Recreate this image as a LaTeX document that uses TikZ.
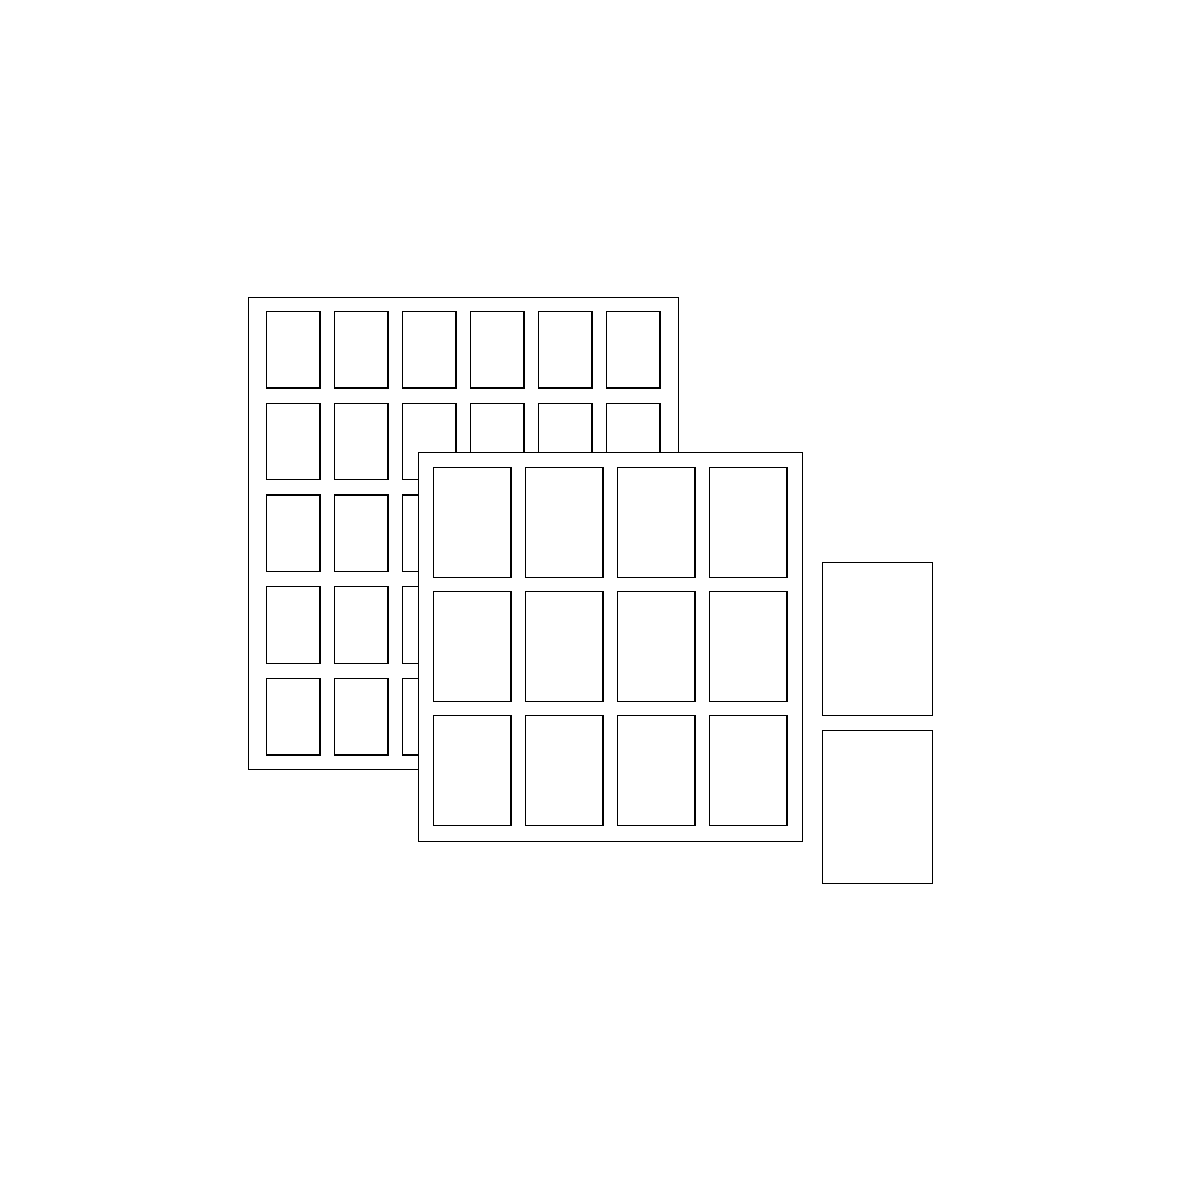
\documentclass[tikz,border=0pt]{standalone}
\begin{document}
\begin{tikzpicture}[x=0.02cm,y=-0.02cm,
  sheet/.style={draw=black,fill=white,line width=0.65pt},
  card/.style={draw=black,fill=white,line width=0.65pt}]
\useasboundingbox (0,0) rectangle (1181,1181);
% back sheet
\draw[sheet] (248.5,297.5) rectangle (678.5,769.5);
\foreach \i in {0,...,5}{
  \foreach \j in {0,...,4}{
    \draw[card] ({266.5+68*\i},{311.5+91.75*\j}) rectangle ++(53.5,76.5);
  }
}
% front sheet
\draw[sheet] (418.5,452.5) rectangle (802.5,841.5);
\foreach \i in {0,...,3}{
  \foreach \j in {0,...,2}{
    \draw[card] ({433.5+92*\i},{467.5+124*\j}) rectangle ++(77.5,110);
  }
}
% loose cards
\draw[card] (822.5,562.5) rectangle (932.5,715.5);
\draw[card] (822.5,730.5) rectangle (932.5,883.5);
\end{tikzpicture}
\end{document}
